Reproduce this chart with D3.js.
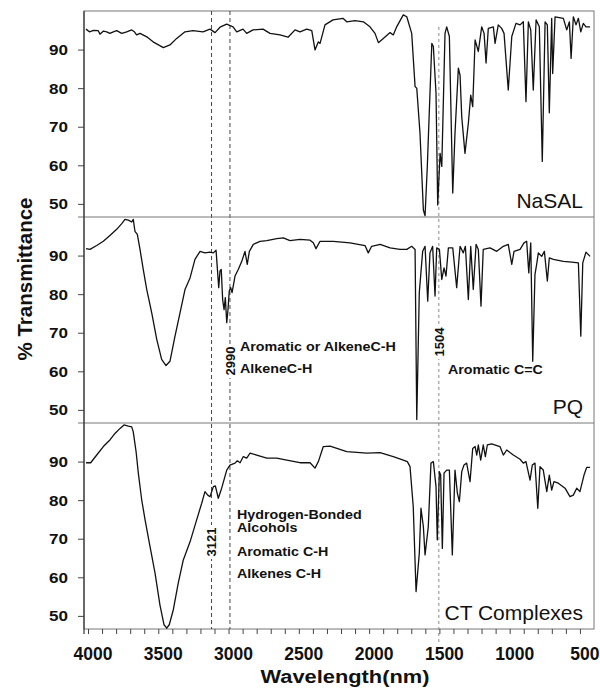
<!DOCTYPE html>
<html><head><meta charset="utf-8">
<script src="https://cdn.jsdelivr.net/npm/d3@7"></script>
<style>
html,body{margin:0;padding:0;background:#fff;}
svg{display:block;font-family:"Liberation Sans",Arial,sans-serif;}
</style></head><body>
<svg id="chart" width="600" height="688"></svg>
<script>
// ---------- DATA ----------
const panelNames = ["NaSAL", "PQ", "CT Complexes"];
const yTicks = [50, 60, 70, 80, 90];
const xMajorTicks = [4000, 3500, 3000, 2500, 2000, 1500, 1000, 500];
const markerLines = [3121, 2990, 1504];

// [wavelength, % transmittance]
const nasal = [
 [4014,95.3],[3990,94.6],[3960,95.0],[3927,94.9],[3915,94.0],[3890,94.8],[3867,94.6],[3844,94.2],
 [3820,94.6],[3796,94.9],[3760,94.2],[3725,94.6],[3689,95.1],[3670,94.6],[3654,93.8],[3630,94.2],
 [3582,93.3],[3537,92.0],[3464,90.5],[3417,91.2],[3369,92.9],[3310,94.6],[3253,94.9],[3182,94.6],
 [3132,95.3],[3096,94.4],[3061,95.8],[3013,96.6],[2968,95.9],[2942,94.6],[2897,95.3],[2871,94.2],
 [2826,95.1],[2755,95.3],[2705,94.2],[2634,93.8],[2577,93.2],[2527,95.1],[2492,94.6],[2444,95.3],
 [2408,94.9],[2385,89.9],[2361,92.0],[2349,91.6],[2314,96.4],[2257,97.7],[2186,98.1],[2159,97.2],
 [2100,97.5],[2041,97.2],[1994,95.9],[1958,94.2],[1934,91.8],[1899,92.9],[1851,94.4],[1828,93.8],
 [1804,95.9],[1757,99.0],[1732,98.5],[1697,94.2],[1673,80.4],[1661,80.0],[1638,68.3],[1614,48.4],
 [1602,46.9],[1586,59.7],[1554,91.6],[1543,90.8],[1524,78.7],[1512,49.7],[1495,63.1],[1483,59.7],
 [1460,94.2],[1448,95.9],[1429,93.4],[1405,52.8],[1389,68.3],[1365,85.2],[1353,83.4],[1341,72.6],
 [1318,63.1],[1294,70.9],[1277,78.2],[1263,75.2],[1246,92.5],[1223,89.5],[1199,95.9],[1182,94.2],
 [1168,86.5],[1152,95.5],[1116,95.9],[1104,91.6],[1081,96.4],[1057,95.5],[1040,94.2],[1010,79.5],
 [985,93.4],[955,96.8],[926,96.4],[903,97.2],[884,76.5],[867,97.2],[850,95.1],[832,79.5],
 [812,97.7],[789,95.9],[768,61.0],[748,97.2],[732,96.4],[718,73.6],[701,98.1],[694,83.8],
 [677,98.5],[618,98.1],[594,95.1],[575,97.2],[563,87.7],[547,98.5],[528,96.4],[511,98.1],
 [494,94.6],[476,96.8],[457,95.9],[428,95.9]
];
const pq = [
 [4014,91.8],[3986,91.6],[3938,92.6],[3891,93.7],[3844,95.2],[3796,96.8],[3760,98.3],[3737,99.4],
 [3713,99.2],[3689,98.7],[3678,99.4],[3666,96.3],[3649,95.5],[3630,91.6],[3607,86.4],[3582,81.2],
 [3547,75.2],[3511,68.3],[3476,63.1],[3445,61.5],[3417,62.6],[3381,69.1],[3345,75.2],[3310,81.2],
 [3274,84.2],[3239,89.0],[3203,91.1],[3168,90.7],[3132,90.9],[3108,90.7],[3089,91.4],[3080,86.8],
 [3070,81.7],[3061,86.0],[3052,86.4],[3042,78.6],[3032,76.0],[3023,79.1],[3013,72.6],[3004,76.0],
 [2995,80.8],[2985,81.7],[2975,80.4],[2954,84.7],[2931,86.4],[2906,88.5],[2883,91.1],[2867,87.7],
 [2852,91.1],[2824,92.9],[2776,93.7],[2728,93.9],[2657,94.4],[2610,94.6],[2563,93.9],[2492,94.2],
 [2420,94.0],[2397,93.3],[2378,91.8],[2349,93.7],[2255,93.7],[2136,93.3],[2029,92.6],[2006,90.7],
 [1982,92.4],[1922,92.9],[1851,92.0],[1780,91.6],[1732,91.6],[1697,92.4],[1673,91.6],[1661,47.5],
 [1643,80.4],[1619,91.1],[1602,92.4],[1583,78.2],[1567,90.7],[1548,92.4],[1531,79.5],[1519,92.0],
 [1500,91.6],[1483,83.8],[1467,86.8],[1453,84.7],[1436,92.0],[1405,92.0],[1377,81.7],[1353,92.4],
 [1330,90.7],[1315,92.4],[1294,78.6],[1277,92.4],[1259,81.2],[1239,92.9],[1223,91.6],[1204,76.9],
 [1188,91.6],[1140,92.0],[1092,91.1],[1045,92.4],[1010,92.9],[985,87.7],[969,91.1],[926,91.6],
 [898,93.3],[879,93.7],[864,85.5],[850,93.3],[836,62.6],[820,85.1],[808,87.7],[796,90.7],
 [772,89.8],[753,91.1],[732,83.4],[718,89.4],[689,89.0],[618,88.5],[558,88.3],[511,88.1],
 [494,69.1],[480,88.1],[457,90.9],[428,89.8]
];
const ct = [
 [4014,89.7],[3981,89.7],[3938,91.7],[3891,93.9],[3844,95.6],[3808,97.3],[3772,98.6],[3744,99.5],
 [3713,99.2],[3689,99.0],[3678,97.7],[3658,92.6],[3642,87.0],[3618,80.1],[3594,74.9],[3559,68.0],
 [3523,61.1],[3488,52.8],[3459,47.7],[3440,46.8],[3422,47.7],[3393,51.6],[3358,58.5],[3322,64.5],
 [3274,69.2],[3227,74.9],[3191,79.2],[3168,82.2],[3148,81.3],[3132,80.9],[3108,83.5],[3094,83.7],
 [3073,80.5],[3049,83.1],[3013,87.8],[2990,89.1],[2954,89.6],[2938,90.2],[2918,89.7],[2895,91.3],
 [2871,90.9],[2847,92.2],[2800,91.7],[2728,90.9],[2657,90.9],[2586,90.4],[2492,89.7],[2420,89.7],
 [2385,88.3],[2361,90.0],[2326,93.9],[2278,94.0],[2159,92.6],[2017,92.2],[1922,92.3],[1828,91.3],
 [1757,90.4],[1728,90.0],[1709,88.7],[1686,78.3],[1666,56.3],[1643,66.2],[1631,77.9],[1614,73.1],
 [1602,65.8],[1579,73.1],[1560,89.6],[1543,90.0],[1524,83.5],[1515,69.7],[1500,87.4],[1491,86.5],
 [1479,67.5],[1467,87.0],[1448,87.8],[1429,87.8],[1408,65.8],[1389,87.8],[1372,81.8],[1358,79.6],
 [1341,87.4],[1325,89.1],[1306,89.6],[1282,84.8],[1263,93.4],[1246,93.9],[1234,91.7],[1223,94.3],
 [1206,90.4],[1188,94.3],[1173,91.3],[1159,94.3],[1128,94.6],[1069,93.9],[1045,91.7],[1021,93.0],
 [974,91.7],[926,90.6],[903,89.6],[884,90.0],[855,85.2],[839,89.1],[820,89.6],[800,77.9],
 [784,88.7],[761,87.8],[736,82.2],[718,86.5],[701,82.6],[685,84.8],[654,84.4],[606,83.1],
 [571,80.9],[547,81.3],[523,83.1],[500,82.2],[471,86.5],[452,88.5],[428,88.5]
];
const series = [nasal, pq, ct];

// ---------- LAYOUT ----------
const plotLeft = 84, plotRight = 594, plotTop = 11, panelH = 206;
const plotBottom = plotTop + 3 * panelH;
const svg = d3.select("#chart");

const x = d3.scaleLinear().domain([4028.5, 400]).range([plotLeft, plotRight]);

function stretch(sel, sx, anchorX) {
  sel.attr("transform", `scale(${sx},1)`).attr("x", anchorX / sx);
}

// frame
svg.append("rect").attr("x", plotLeft).attr("y", plotTop)
  .attr("width", plotRight - plotLeft).attr("height", plotBottom - plotTop)
  .attr("fill", "none").attr("stroke", "#777").attr("stroke-width", 1);

// dashed marker lines
markerLines.forEach(w => {
  const light = w === 1504;
  svg.append("line")
    .attr("x1", x(w)).attr("x2", x(w))
    .attr("y1", light ? 27 : plotTop).attr("y2", light ? 643 : plotBottom)
    .attr("stroke", light ? "#8a8a8a" : "#444")
    .attr("stroke-width", 1)
    .attr("stroke-dasharray", light ? "3,3" : "4,3");
});

series.forEach((data, i) => {
  const top = plotTop + i * panelH;
  const y = d3.scaleLinear().domain([46.6, 100]).range([top + panelH, top]);

  if (i > 0) {
    svg.append("line").attr("x1", plotLeft - 6).attr("x2", plotRight)
      .attr("y1", top).attr("y2", top).attr("stroke", "#777").attr("stroke-width", 1);
  }

  const ax = svg.append("g").attr("transform", `translate(${plotLeft},0)`)
    .call(d3.axisLeft(y).tickValues(yTicks).tickSize(6).tickSizeOuter(0));
  ax.select(".domain").remove();
  ax.selectAll(".tick line").attr("stroke", "#444");
  ax.selectAll(".tick text")
    .attr("font-size", 15.5).attr("font-weight", "bold").attr("fill", "#111")
    .attr("font-family", "Liberation Sans, Arial, sans-serif")
    .call(s => stretch(s, 1.1, -16));

  const line = d3.line().x(d => x(d[0])).y(d => y(d[1]));
  svg.append("path").datum(data).attr("d", line)
    .attr("fill", "none").attr("stroke", "#111").attr("stroke-width", 1.3)
    .attr("stroke-linejoin", "round");

  svg.append("text").text(panelNames[i])
    .attr("x", 583).attr("y", top + panelH - 9)
    .attr("text-anchor", "end").attr("font-size", 21).attr("fill", "#111");
});

// left axis line
svg.append("line").attr("x1", plotLeft).attr("x2", plotLeft)
  .attr("y1", plotTop).attr("y2", plotBottom + 5).attr("stroke", "#333").attr("stroke-width", 1.2);

// x axis
const xa = svg.append("g").attr("transform", `translate(0,${plotBottom})`)
  .call(d3.axisBottom(x).tickValues(d3.range(4000, 499, -100)).tickSize(5).tickSizeOuter(0)
    .tickFormat(d => xMajorTicks.includes(d) ? d : ""));
xa.select(".domain").remove();
xa.selectAll(".tick line").attr("stroke", "#444");
xa.selectAll(".tick text")
  .attr("font-size", 17.5).attr("font-weight", "bold").attr("fill", "#111")
  .attr("font-family", "Liberation Sans, Arial, sans-serif")
  .attr("y", 31).attr("dy", 0).attr("dx", 4.5);

// axis titles
svg.append("text").text("Wavelength(nm)")
  .attr("font-size", 18.5).attr("font-weight", "bold").attr("fill", "#111")
  .attr("text-anchor", "middle").attr("y", 683)
  .call(s => stretch(s, 1.18, 345));

svg.append("text").text("% Transmittance")
  .attr("font-size", 20.5).attr("font-weight", "bold").attr("fill", "#111")
  .attr("text-anchor", "middle")
  .attr("transform", "translate(32,279) rotate(-90)");

// rotated marker labels with white background
const markerLabelY = {3121: 542, 2990: 361, 1504: 342};
markerLines.forEach(w => {
  const g = svg.append("g").attr("transform", `translate(${x(w)},${markerLabelY[w]}) rotate(-90)`);
  g.append("rect").attr("x", -17).attr("y", -6).attr("width", 34).attr("height", 12).attr("fill", "#fff");
  g.append("text").text(w).attr("text-anchor", "middle").attr("dy", "0.36em")
    .attr("font-size", 13).attr("font-weight", "bold").attr("fill", "#111");
});

// annotations
const annotations = [
  ["Aromatic or AlkeneC-H", 240, 351],
  ["AlkeneC-H", 240, 373],
  ["Aromatic C=C", 448, 374],
  ["Hydrogen-Bonded", 237, 519],
  ["Alcohols", 237, 532.5],
  ["Aromatic C-H", 237, 556.5],
  ["Alkenes C-H", 237, 578]
];
annotations.forEach(([t, ax0, ay]) => {
  svg.append("text").text(t).attr("y", ay)
    .attr("font-size", 13).attr("font-weight", "bold").attr("fill", "#111")
    .call(s => stretch(s, 1.1, ax0));
});
</script>
</body></html>
